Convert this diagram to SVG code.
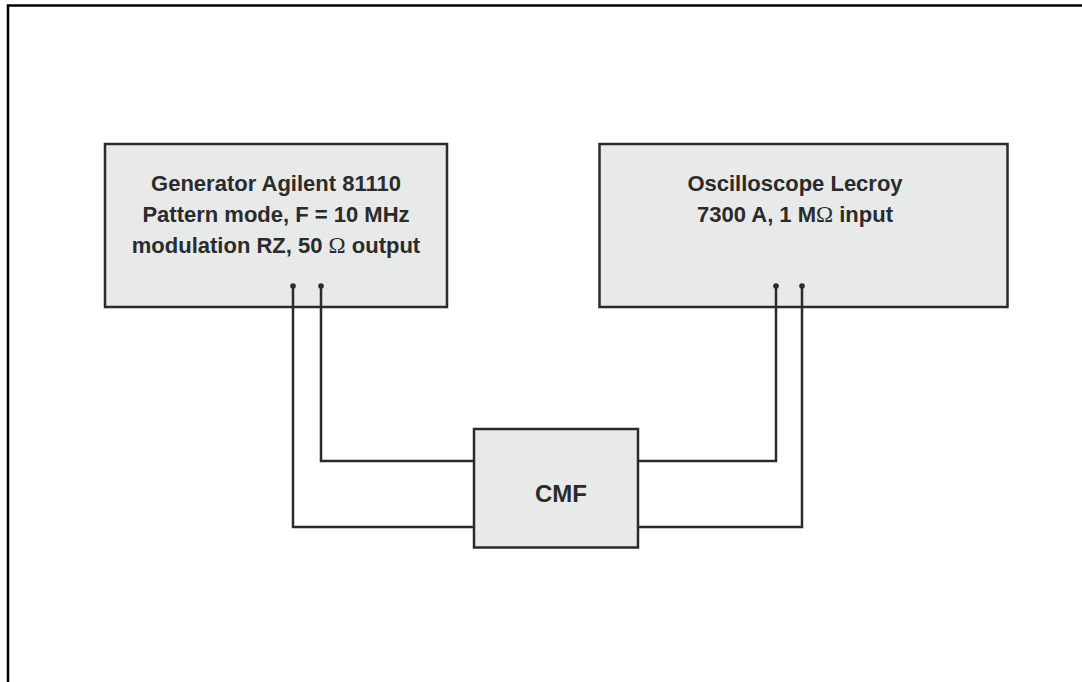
<svg xmlns="http://www.w3.org/2000/svg" width="1082" height="682" viewBox="0 0 1082 682">
<style>
.box{fill:#e8e9e9;stroke:#2b2b2b;stroke-width:2.5}
.lbl{font-family:"Liberation Sans",Arial,sans-serif;font-weight:bold;font-size:22px;fill:#2b2b2b;text-anchor:middle}
.om{font-family:"Liberation Serif","Times New Roman",serif;font-weight:normal;font-size:23px}
.wire{fill:none;stroke:#2b2b2b;stroke-width:2.5}
.pin{fill:#2b2b2b}
.frame{fill:none;stroke:#000;stroke-width:2.5}
</style>
<rect width="1082" height="682" fill="#fff"/>
<path class="frame" d="M8,682 V5.5 H1082"/>
<g id="generator">
<rect class="box" x="105" y="144" width="342" height="163"/>
<text class="lbl" x="276" y="191">Generator Agilent 81110</text>
<text class="lbl" x="276" y="222">Pattern mode, F = 10 MHz</text>
<text class="lbl" x="276" y="253">modulation RZ, 50 <tspan class="om">Ω</tspan> output</text>
</g>
<g id="oscilloscope">
<rect class="box" x="599.5" y="144" width="408" height="163"/>
<text class="lbl" x="795" y="191">Oscilloscope Lecroy</text>
<text class="lbl" x="795" y="222">7300 A, 1 M<tspan class="om">Ω</tspan> input</text>
</g>
<g id="cmf">
<rect class="box" x="474" y="429" width="164" height="118.5"/>
<text class="lbl" x="561" y="502" style="font-size:24px">CMF</text>
</g>
<g id="connectors">
<path class="wire" d="M293,286 V527 H474"/>
<path class="wire" d="M321,286 V461 H474"/>
<path class="wire" d="M638,461 H776 V286"/>
<path class="wire" d="M638,527 H802 V286"/>
<circle class="pin" cx="293" cy="286" r="2.8"/>
<circle class="pin" cx="321" cy="286" r="2.8"/>
<circle class="pin" cx="776" cy="286" r="2.8"/>
<circle class="pin" cx="802" cy="286" r="2.8"/>
</g>
</svg>
